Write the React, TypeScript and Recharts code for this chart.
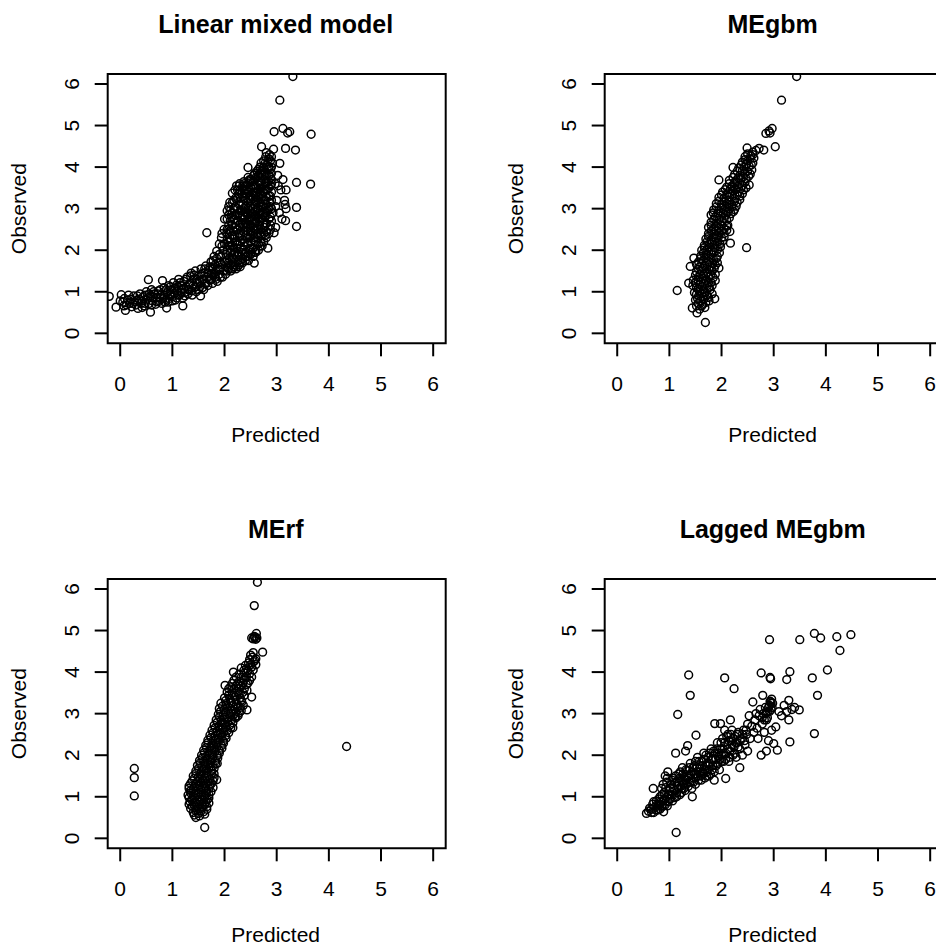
import React from 'react';
import { ScatterChart, Scatter, XAxis, YAxis, ReferenceArea } from 'recharts';

// axis / label text
const AXIS_TICKS = [0, 1, 2, 3, 4, 5, 6];
const X_LABEL = 'Predicted';
const Y_LABEL = 'Observed';

// [predicted, observed] pairs
const lmmPoints: [number, number][] = [
  [-0.21, 0.89], [-0.08, 0.63], [0.02, 0.93], [0.1, 0.55], [0.05, 0.75], [0.08, 0.84], [0.12, 0.68],
  [0.18, 0.72], [0.2, 0.82], [0.22, 0.64], [0.26, 0.9], [0.28, 0.76], [0.3, 0.68],
  [0.34, 0.6], [0.36, 0.82], [0.38, 0.95], [0.4, 0.72], [0.44, 0.88], [0.46, 0.66], [0.5, 0.8], [0.5, 1.0],
  [0.54, 1.29], [0.55, 0.72], [0.58, 0.51], [0.58, 0.9], [0.6, 1.05], [0.62, 0.78], [0.66, 0.95], [0.68, 0.7], [0.7, 0.86],
  [0.73, 1.02], [0.75, 0.77], [0.78, 0.92], [0.81, 1.27], [0.82, 0.84], [0.84, 1.1], [0.86, 0.75], [0.89, 0.61], [0.9, 0.98],
  [0.93, 1.15], [0.94, 0.84], [0.97, 0.92], [0.98, 1.05], [1.0, 0.78], [1.02, 1.22], [1.04, 0.96], [1.06, 1.1], [1.08, 0.85], [1.1, 1.02],
  [1.12, 1.3], [1.14, 0.92], [1.16, 1.15], [1.18, 1.05], [1.2, 0.66], [1.2, 0.85], [1.22, 1.25], [1.24, 0.98], [1.26, 1.12], [1.28, 1.35], [1.3, 0.95],
  [1.32, 1.05], [1.34, 1.2], [1.36, 1.45], [1.38, 0.92], [1.4, 1.3], [1.42, 1.1], [1.44, 1.5], [1.46, 1.0], [1.48, 1.22], [1.5, 1.38],
  [1.54, 0.9], [1.53, 1.12], [1.55, 1.55], [1.57, 1.3], [1.6, 1.05], [1.6, 1.45], [1.62, 1.2], [1.64, 1.62], [1.66, 2.42], [1.66, 1.35], [1.68, 1.15], [1.7, 1.52],
  [1.72, 1.28], [1.74, 1.72], [1.75, 1.42], [1.77, 1.2], [1.78, 1.6], [1.8, 1.85], [1.82, 1.35], [1.83, 1.5], [1.85, 1.98], [1.86, 1.25], [1.88, 1.7], [1.9, 1.42], [1.9, 2.15],
  [1.92, 1.58], [1.93, 1.85], [1.94, 2.3], [1.96, 1.35], [1.97, 2.0], [1.98, 1.5], [1.99, 2.5], [2.0, 1.72], [2.0, 2.15], [2.0, 2.75],
  [2.02, 1.42], [2.03, 1.9], [2.04, 2.4], [2.05, 2.95], [2.06, 1.6], [2.07, 2.1], [2.08, 2.6], [2.09, 1.8], [2.1, 3.15], [2.1, 2.3],
  [2.12, 1.5], [2.13, 2.0], [2.14, 2.8], [2.15, 3.37], [2.16, 1.7], [2.17, 2.45], [2.18, 3.0], [2.19, 1.9], [2.2, 2.2], [2.2, 2.65], [2.21, 3.25], [2.22, 1.55],
  [2.23, 3.55], [2.24, 2.05], [2.25, 2.85], [2.26, 1.75], [2.27, 2.4], [2.28, 3.1], [2.29, 3.6], [2.3, 1.6], [2.3, 2.2], [2.31, 2.65], [2.32, 1.95],
  [2.33, 3.35], [2.34, 2.95], [2.35, 1.7], [2.36, 2.45], [2.37, 3.65], [2.38, 2.1], [2.39, 2.8], [2.4, 3.2], [2.41, 1.85], [2.42, 2.55], [2.42, 3.45],
  [2.45, 3.99], [2.44, 2.3], [2.45, 3.0], [2.46, 1.75], [2.47, 2.7], [2.48, 3.7], [2.49, 2.05], [2.5, 3.3], [2.5, 2.45], [2.52, 2.9], [2.52, 1.95],
  [2.54, 3.55], [2.55, 2.25], [2.56, 3.8], [2.57, 1.69], [2.57, 2.65], [2.58, 3.1], [2.6, 2.0], [2.6, 2.85], [2.61, 3.4], [2.62, 3.9], [2.62, 2.4],
  [2.64, 3.2], [2.65, 2.15], [2.66, 3.65], [2.67, 2.6], [2.68, 4.0], [2.68, 2.95], [2.7, 3.35], [2.71, 4.49], [2.7, 2.35], [2.72, 3.8], [2.72, 2.1],
  [2.74, 3.05], [2.75, 4.15], [2.76, 2.55], [2.77, 3.55], [2.78, 2.8], [2.79, 4.25], [2.8, 3.3], [2.8, 2.3], [2.82, 3.95], [2.83, 2.05], [2.82, 2.95],
  [2.85, 3.65], [2.86, 4.3], [2.87, 3.15], [2.88, 2.6], [2.9, 3.85], [2.9, 3.4], [2.92, 4.1], [2.94, 4.43], [2.95, 2.42], [2.95, 4.85], [2.93, 2.9], [2.97, 3.6], [2.98, 2.55],
  [3.0, 3.2], [3.02, 3.8], [3.05, 2.9], [3.06, 4.09], [3.06, 5.61], [3.08, 3.45], [3.1, 2.75], [3.12, 4.93], [3.12, 3.7], [3.15, 3.2],
  [3.16, 3.1], [3.17, 2.71], [3.17, 4.45], [3.18, 3.45], [3.18, 3.0], [3.21, 4.82], [3.25, 4.85], [3.31, 6.18], [3.36, 4.41],
  [3.38, 3.63], [3.38, 3.03], [3.38, 2.57], [3.66, 4.79], [3.65, 3.59], [3.03, 3.55], [2.98, 3.05],
  // filling the dense band
  [0.0, 0.78], [0.07, 0.66], [0.14, 0.8], [0.16, 0.92], [0.24, 0.72], [0.32, 0.8], [0.33, 0.9], [0.42, 0.62], [0.42, 0.78], [0.48, 0.72], [0.48, 0.92],
  [0.53, 0.85], [0.56, 0.95], [0.6, 0.68], [0.64, 0.86], [0.64, 1.0], [0.7, 0.76], [0.72, 0.95], [0.76, 0.86], [0.77, 1.05], [0.8, 0.72],
  [0.84, 0.92], [0.88, 0.82], [0.88, 1.05], [0.92, 0.75], [0.95, 0.95], [0.96, 1.12],
  [1.0, 0.88], [1.03, 1.08], [1.06, 0.8], [1.08, 1.16], [1.1, 0.92], [1.12, 1.1], [1.15, 1.22], [1.17, 0.98], [1.22, 1.08], [1.24, 0.9],
  [1.26, 1.3], [1.3, 1.05], [1.32, 1.18], [1.35, 1.38], [1.37, 1.02], [1.4, 1.15], [1.42, 1.4], [1.45, 1.12], [1.47, 1.3], [1.5, 1.05],
  [1.52, 1.25], [1.55, 1.42], [1.58, 1.1], [1.6, 1.3], [1.62, 1.55], [1.65, 1.2], [1.68, 1.45], [1.7, 1.3], [1.72, 1.6], [1.75, 1.3],
  [1.76, 1.55], [1.78, 1.75], [1.8, 1.45], [1.82, 1.65], [1.84, 1.3], [1.85, 1.8], [1.88, 1.55], [1.9, 1.9], [1.92, 1.35], [1.92, 1.7],
  [1.95, 1.65], [1.95, 2.1], [1.95, 2.4],
  [2.05, 1.5], [2.05, 1.75], [2.05, 2.0], [2.05, 2.25], [2.05, 2.5], [2.05, 2.75],
  [2.11, 1.65], [2.11, 1.95], [2.11, 2.2], [2.11, 2.45], [2.11, 2.7], [2.11, 2.95],
  [2.15, 1.55], [2.15, 1.8], [2.15, 2.1], [2.15, 2.35], [2.15, 2.6], [2.15, 2.9], [2.15, 3.15],
  [2.2, 1.65], [2.2, 1.95], [2.2, 2.35], [2.2, 2.55], [2.2, 2.85], [2.2, 3.05], [2.2, 3.45],
  [2.25, 1.6], [2.25, 1.85], [2.25, 2.15], [2.25, 2.5], [2.25, 2.7], [2.25, 3.0], [2.25, 3.25], [2.25, 3.45],
  [2.3, 1.7], [2.3, 2.05], [2.3, 2.35], [2.3, 2.55], [2.3, 2.8], [2.3, 2.95], [2.3, 3.25], [2.3, 3.45],
  [2.35, 1.8], [2.35, 2.0], [2.35, 2.25], [2.35, 2.6], [2.35, 2.85], [2.35, 3.1], [2.35, 3.3], [2.35, 3.55],
  [2.4, 1.75], [2.4, 1.95], [2.4, 2.35], [2.4, 2.65], [2.4, 2.9], [2.4, 3.05], [2.4, 3.35], [2.4, 3.55],
  [2.45, 1.85], [2.45, 2.15], [2.45, 2.45], [2.45, 2.6], [2.45, 2.85], [2.45, 3.15], [2.45, 3.4], [2.45, 3.6], [2.45, 3.75],
  [2.5, 1.9], [2.5, 2.2], [2.5, 2.35], [2.5, 2.6], [2.5, 2.8], [2.5, 3.05], [2.5, 3.2], [2.5, 3.5], [2.5, 3.7],
  [2.55, 1.85], [2.55, 2.05], [2.55, 2.4], [2.55, 2.55], [2.55, 2.8], [2.55, 3.0], [2.55, 3.25], [2.55, 3.4], [2.55, 3.65],
  [2.6, 1.95], [2.6, 2.2], [2.6, 2.5], [2.6, 2.7], [2.6, 2.95], [2.6, 3.15], [2.6, 3.3], [2.6, 3.55], [2.6, 3.75],
  [2.65, 2.0], [2.65, 2.3], [2.65, 2.5], [2.65, 2.75], [2.65, 3.0], [2.65, 3.3], [2.65, 3.45], [2.65, 3.8], [2.65, 3.95],
  [2.7, 2.2], [2.7, 2.5], [2.7, 2.75], [2.7, 2.85], [2.7, 3.1], [2.7, 3.25], [2.7, 3.5], [2.7, 3.65], [2.7, 3.9], [2.7, 4.1],
  [2.75, 2.2], [2.75, 2.4], [2.75, 2.65], [2.75, 2.9], [2.75, 3.2], [2.75, 3.4], [2.75, 3.7], [2.75, 3.9], [2.75, 4.0],
  [2.8, 2.45], [2.8, 2.65], [2.8, 2.9], [2.8, 3.1], [2.8, 3.45], [2.8, 3.65], [2.8, 3.8], [2.8, 4.05], [2.8, 4.35],
  [2.85, 2.4], [2.85, 2.75], [2.85, 3.0], [2.85, 3.3], [2.85, 3.5], [2.85, 3.8], [2.85, 4.0], [2.85, 4.2],
  [2.9, 2.7], [2.9, 3.0], [2.9, 3.2], [2.9, 3.6], [2.9, 3.7], [2.9, 4.0], [2.9, 4.25],
  [2.08, 1.55], [2.08, 1.7], [2.08, 2.2], [2.08, 2.5], [2.08, 2.85], [2.08, 3.05],
  [2.18, 1.6], [2.18, 1.8], [2.18, 2.05], [2.18, 2.3], [2.18, 2.75], [2.18, 3.2],
  [2.28, 1.65], [2.28, 1.9], [2.28, 2.3], [2.28, 2.6], [2.28, 2.9], [2.28, 3.35], [2.28, 3.55],
  [2.38, 1.9], [2.38, 2.2], [2.38, 2.55], [2.38, 2.75], [2.38, 3.0], [2.38, 3.25], [2.38, 3.45], [2.38, 3.6],
  [2.48, 2.0], [2.48, 2.3], [2.48, 2.55], [2.48, 2.75], [2.48, 2.95], [2.48, 3.25], [2.48, 3.45], [2.48, 3.65],
  [2.58, 1.95], [2.58, 2.3], [2.58, 2.5], [2.58, 2.75], [2.58, 2.95], [2.58, 3.2], [2.58, 3.5], [2.58, 3.7], [2.58, 3.85],
  [2.68, 2.1], [2.68, 2.4], [2.68, 2.7], [2.68, 2.9], [2.68, 3.15], [2.68, 3.4], [2.68, 3.6], [2.68, 3.75], [2.68, 3.85],
  [2.78, 2.35], [2.78, 2.6], [2.78, 2.85], [2.78, 3.0], [2.78, 3.2], [2.78, 3.45], [2.78, 3.6], [2.78, 3.85], [2.78, 4.1],
  [2.88, 2.5], [2.88, 2.8], [2.88, 3.05], [2.88, 3.3], [2.88, 3.55], [2.88, 3.75], [2.88, 3.95], [2.88, 4.15],
];

const megbmPoints: [number, number][] = [
  [1.53, 0.49], [1.44, 0.61], [1.58, 0.58], [1.62, 0.66], [1.68, 0.62], [1.55, 0.72],
  [1.5, 0.8], [1.6, 0.78], [1.7, 0.74], [1.65, 0.88], [1.56, 0.9], [1.75, 0.86], [1.87, 0.83],
  [1.15, 1.03], [1.48, 0.98], [1.58, 1.02], [1.68, 0.98], [1.78, 1.05], [1.52, 1.1], [1.63, 1.12], [1.73, 1.15],
  [1.37, 1.21], [1.5, 1.22], [1.6, 1.25], [1.7, 1.28], [1.8, 1.22], [1.88, 1.27], [1.55, 1.35], [1.66, 1.38], [1.76, 1.35],
  [1.4, 1.61], [1.52, 1.48], [1.62, 1.5], [1.72, 1.47], [1.82, 1.5], [1.58, 1.6], [1.68, 1.62], [1.78, 1.6], [1.95, 1.57], [1.88, 1.64],
  [1.47, 1.81], [1.56, 1.72], [1.65, 1.75], [1.75, 1.73], [1.85, 1.77], [1.6, 1.86], [1.7, 1.88], [1.8, 1.9], [1.92, 1.85],
  [1.62, 2.0], [1.72, 2.02], [1.82, 2.0], [1.93, 2.03], [1.67, 2.12], [1.77, 2.15], [1.87, 2.13], [1.97, 2.15], [2.17, 2.17], [2.48, 2.06],
  [1.7, 2.27], [1.8, 2.25], [1.9, 2.28], [2.0, 2.3], [1.75, 2.4], [1.85, 2.38], [1.95, 2.42], [2.05, 2.4], [2.16, 2.45],
  [1.75, 2.55], [1.85, 2.52], [1.95, 2.55], [2.05, 2.52], [2.12, 2.6], [1.8, 2.67], [1.9, 2.65], [2.0, 2.68], [2.1, 2.72],
  [1.8, 2.85], [1.88, 2.8], [1.98, 2.82], [2.08, 2.84], [2.18, 2.88], [1.85, 2.97], [1.95, 2.95], [2.05, 2.98], [2.15, 3.0], [2.25, 2.98],
  [1.9, 3.12], [2.0, 3.1], [2.1, 3.12], [2.2, 3.1], [2.3, 3.15], [1.95, 3.27], [2.05, 3.25], [2.15, 3.28], [2.25, 3.24], [2.35, 3.3],
  [2.02, 3.4], [2.12, 3.38], [2.22, 3.42], [2.32, 3.4], [2.42, 3.45], [2.1, 3.52], [2.2, 3.55], [2.3, 3.53], [2.4, 3.56], [2.53, 3.57], [1.95, 3.69],
  [2.15, 3.68], [2.27, 3.67], [2.37, 3.7], [2.47, 3.72], [2.25, 3.82], [2.35, 3.8], [2.45, 3.85], [2.55, 3.83],
  [2.22, 3.99], [2.33, 3.98], [2.43, 4.0], [2.53, 4.02], [2.4, 4.12], [2.5, 4.15], [2.6, 4.1], [2.45, 4.25], [2.56, 4.27], [2.62, 4.22],
  [2.49, 4.46], [2.72, 4.45], [2.81, 4.41], [3.03, 4.49], [2.6, 4.36], [2.66, 4.4], [2.85, 4.81], [2.91, 4.87], [2.97, 4.93], [2.93, 4.82],
  [3.15, 5.61], [3.44, 6.18], [1.69, 0.26],
  // filling the dense band
  [1.52, 0.66], [1.64, 0.7], [1.54, 0.84], [1.66, 0.82], [1.76, 0.78], [1.52, 0.94], [1.62, 0.96], [1.72, 0.92], [1.82, 0.95],
  [1.55, 1.06], [1.66, 1.05], [1.76, 1.1], [1.45, 1.15], [1.58, 1.17], [1.68, 1.2], [1.82, 1.15],
  [1.46, 1.28], [1.55, 1.28], [1.65, 1.32], [1.75, 1.22], [1.84, 1.34], [1.5, 1.4], [1.6, 1.42], [1.7, 1.43], [1.8, 1.42], [1.88, 1.42],
  [1.56, 1.54], [1.66, 1.56], [1.76, 1.54], [1.86, 1.56], [1.52, 1.66], [1.62, 1.68], [1.72, 1.68], [1.83, 1.68], [1.92, 1.7],
  [1.6, 1.8], [1.7, 1.82], [1.8, 1.82], [1.9, 1.8], [1.65, 1.93], [1.75, 1.95], [1.86, 1.95], [1.96, 1.94],
  [1.67, 2.06], [1.77, 2.07], [1.88, 2.06], [1.98, 2.08], [1.72, 2.2], [1.82, 2.2], [1.92, 2.2], [2.02, 2.22],
  [1.75, 2.33], [1.85, 2.32], [1.95, 2.34], [2.05, 2.32], [1.8, 2.46], [1.9, 2.46], [2.0, 2.46], [2.1, 2.48],
  [1.8, 2.6], [1.9, 2.59], [2.0, 2.6], [2.1, 2.58], [1.85, 2.74], [1.95, 2.73], [2.05, 2.76], [2.15, 2.78],
  [1.84, 2.9], [1.93, 2.89], [2.03, 2.9], [2.13, 2.92], [2.23, 2.93], [1.9, 3.04], [2.0, 3.04], [2.1, 3.06], [2.2, 3.04], [2.28, 3.06],
  [1.95, 3.18], [2.05, 3.18], [2.15, 3.2], [2.25, 3.18], [2.35, 3.22], [2.0, 3.33], [2.1, 3.32], [2.2, 3.34], [2.3, 3.33], [2.4, 3.36],
  [2.07, 3.46], [2.17, 3.47], [2.27, 3.47], [2.37, 3.48], [2.47, 3.5], [2.15, 3.6], [2.25, 3.62], [2.35, 3.6], [2.45, 3.63],
  [2.22, 3.75], [2.32, 3.74], [2.42, 3.77], [2.52, 3.78], [2.3, 3.9], [2.4, 3.91], [2.5, 3.9], [2.58, 3.93],
  [2.38, 4.05], [2.48, 4.07], [2.57, 4.05], [2.45, 4.18], [2.55, 4.2], [2.5, 4.32], [2.6, 4.3],
];

const merfPoints: [number, number][] = [
  [1.45, 0.5], [1.4, 0.62], [1.5, 0.6], [1.6, 0.64], [1.35, 0.72], [1.46, 0.7], [1.56, 0.72], [1.66, 0.7],
  [1.32, 0.82], [1.42, 0.8], [1.52, 0.82], [1.62, 0.8], [1.7, 0.85], [1.37, 0.93], [1.47, 0.92], [1.57, 0.94], [1.67, 0.93],
  [1.3, 1.04], [1.4, 1.02], [1.5, 1.05], [1.6, 1.03], [1.7, 1.05], [1.35, 1.15], [1.45, 1.14], [1.55, 1.16], [1.65, 1.15], [1.74, 1.12],
  [1.32, 1.26], [1.42, 1.25], [1.52, 1.28], [1.62, 1.26], [1.72, 1.27], [1.38, 1.38], [1.48, 1.37], [1.58, 1.39], [1.68, 1.36], [1.78, 1.38], [1.85, 1.41],
  [1.4, 1.5], [1.5, 1.48], [1.6, 1.52], [1.7, 1.5], [1.8, 1.55], [1.45, 1.62], [1.55, 1.6], [1.65, 1.63], [1.75, 1.62],
  [1.48, 1.75], [1.58, 1.73], [1.68, 1.76], [1.78, 1.74], [1.52, 1.87], [1.62, 1.85], [1.72, 1.88], [1.82, 1.86], [1.86, 1.8],
  [1.56, 2.0], [1.66, 1.98], [1.76, 2.01], [1.86, 1.99], [1.6, 2.12], [1.7, 2.1], [1.8, 2.13], [1.9, 2.11], [1.64, 2.24], [1.74, 2.22], [1.84, 2.25], [1.94, 2.23],
  [1.68, 2.36], [1.78, 2.35], [1.88, 2.37], [1.98, 2.34], [1.72, 2.48], [1.82, 2.47], [1.92, 2.5], [2.02, 2.47],
  [1.76, 2.6], [1.86, 2.58], [1.96, 2.62], [2.06, 2.6], [1.8, 2.72], [1.9, 2.71], [2.0, 2.74], [2.1, 2.72], [2.16, 2.66],
  [1.84, 2.85], [1.94, 2.84], [2.04, 2.87], [2.14, 2.85], [2.22, 2.9], [1.88, 2.98], [1.98, 2.97], [2.08, 3.0], [2.18, 2.98], [2.28, 3.02],
  [1.9, 3.12], [2.0, 3.1], [2.1, 3.13], [2.2, 3.11], [2.3, 3.15], [2.43, 3.09], [1.93, 3.25], [2.03, 3.24], [2.13, 3.26], [2.23, 3.23], [2.33, 3.28],
  [2.0, 3.38], [2.1, 3.37], [2.2, 3.4], [2.3, 3.38], [2.52, 3.4], [2.05, 3.52], [2.15, 3.5], [2.25, 3.53], [2.35, 3.51], [2.43, 3.56],
  [2.01, 3.68], [2.12, 3.65], [2.22, 3.67], [2.32, 3.66], [2.42, 3.7], [2.18, 3.8], [2.28, 3.78], [2.38, 3.82], [2.48, 3.8],
  [2.17, 4.0], [2.28, 3.95], [2.38, 3.98], [2.48, 3.96], [2.32, 4.1], [2.42, 4.08], [2.52, 4.12], [2.6, 4.18], [2.46, 4.22], [2.56, 4.25],
  [2.5, 4.41], [2.54, 4.36], [2.6, 4.32], [2.73, 4.48], [2.55, 4.47],
  [2.52, 4.82], [2.55, 4.8], [2.58, 4.83], [2.6, 4.79], [2.62, 4.82], [2.57, 4.86], [2.61, 4.93], [2.57, 5.6], [2.63, 6.16],
  [0.27, 1.68], [0.27, 1.46], [0.27, 1.02], [4.34, 2.21], [1.62, 0.26],
  // filling the dense band
  [1.42, 0.56], [1.52, 0.54], [1.45, 0.66], [1.55, 0.66], [1.62, 0.58], [1.38, 0.77], [1.48, 0.76], [1.58, 0.77], [1.66, 0.76],
  [1.34, 0.88], [1.44, 0.87], [1.54, 0.88], [1.64, 0.87], [1.32, 0.98], [1.42, 0.98], [1.52, 0.99], [1.62, 0.98], [1.7, 0.97],
  [1.35, 1.09], [1.45, 1.09], [1.55, 1.1], [1.65, 1.09], [1.32, 1.2], [1.4, 1.2], [1.5, 1.21], [1.6, 1.2], [1.7, 1.2], [1.78, 1.22],
  [1.35, 1.32], [1.45, 1.31], [1.55, 1.33], [1.65, 1.31], [1.75, 1.32], [1.42, 1.44], [1.52, 1.43], [1.62, 1.45], [1.72, 1.43], [1.8, 1.46],
  [1.45, 1.56], [1.55, 1.55], [1.65, 1.57], [1.75, 1.56], [1.5, 1.68], [1.6, 1.67], [1.7, 1.69], [1.8, 1.68],
  [1.53, 1.81], [1.63, 1.8], [1.73, 1.82], [1.83, 1.8], [1.57, 1.93], [1.67, 1.92], [1.77, 1.94], [1.87, 1.93],
  [1.61, 2.06], [1.71, 2.05], [1.81, 2.07], [1.9, 2.05], [1.65, 2.18], [1.75, 2.17], [1.85, 2.19], [1.95, 2.17],
  [1.68, 2.3], [1.78, 2.29], [1.88, 2.31], [1.98, 2.29], [1.74, 2.42], [1.84, 2.41], [1.94, 2.43], [2.03, 2.41],
  [1.78, 2.54], [1.88, 2.53], [1.98, 2.55], [2.08, 2.54], [1.82, 2.66], [1.92, 2.65], [2.02, 2.67], [2.12, 2.66],
  [1.86, 2.79], [1.96, 2.78], [2.06, 2.8], [2.16, 2.78], [1.9, 2.92], [2.0, 2.91], [2.1, 2.93], [2.2, 2.92], [2.26, 2.95],
  [1.92, 3.05], [2.02, 3.04], [2.12, 3.06], [2.22, 3.04], [2.32, 3.07], [1.96, 3.18], [2.06, 3.17], [2.16, 3.19], [2.26, 3.17], [2.36, 3.2],
  [2.02, 3.31], [2.12, 3.31], [2.22, 3.33], [2.32, 3.32], [2.08, 3.45], [2.18, 3.44], [2.28, 3.46], [2.38, 3.44],
  [2.08, 3.6], [2.18, 3.59], [2.28, 3.61], [2.38, 3.6], [2.15, 3.73], [2.25, 3.72], [2.35, 3.74], [2.45, 3.74],
  [2.22, 3.88], [2.32, 3.87], [2.42, 3.89], [2.52, 3.88], [2.37, 4.04], [2.45, 4.03], [2.55, 4.05], [2.4, 4.16], [2.5, 4.18], [2.48, 4.3], [2.58, 4.28],
];

const laggedPoints: [number, number][] = [
  [0.56, 0.6], [0.6, 0.65], [0.65, 0.7], [0.7, 0.62], [0.68, 0.82], [0.69, 1.2], [0.72, 0.75], [0.75, 0.9], [0.78, 0.68], [0.8, 0.82],
  [0.82, 1.0], [0.85, 0.75], [0.85, 1.2], [0.88, 0.9], [0.89, 0.64], [0.9, 1.1], [0.92, 0.8], [0.95, 1.0], [0.95, 1.35], [0.98, 0.88],
  [1.0, 1.15], [0.92, 1.5], [0.97, 1.6],
  [1.02, 0.95], [1.04, 1.3], [1.05, 1.05], [1.08, 1.2], [1.08, 1.45], [1.1, 0.98], [1.12, 1.35], [1.12, 2.05], [1.13, 0.14], [1.14, 1.1],
  [1.16, 2.98], [1.16, 1.25], [1.18, 1.55], [1.2, 1.05], [1.22, 1.4], [1.24, 1.2], [1.25, 1.7], [1.27, 1.3], [1.28, 1.5], [1.3, 1.15],
  [1.31, 2.1], [1.32, 1.4], [1.34, 1.62], [1.35, 2.23], [1.36, 1.25], [1.37, 3.93], [1.38, 1.5], [1.4, 3.44], [1.4, 1.8], [1.42, 1.35],
  [1.44, 1.0], [1.44, 1.6], [1.46, 1.45], [1.48, 1.75], [1.5, 1.3], [1.51, 2.48],
  [1.52, 1.55], [1.54, 1.95], [1.56, 1.4], [1.58, 1.7], [1.6, 1.5], [1.62, 1.85], [1.64, 1.6], [1.66, 2.05], [1.68, 1.45], [1.7, 1.75],
  [1.72, 1.6], [1.74, 1.95], [1.76, 1.5], [1.78, 1.8], [1.8, 2.15], [1.82, 1.65], [1.84, 1.9], [1.86, 1.4], [1.87, 2.76], [1.88, 2.05],
  [1.9, 1.75], [1.92, 2.3], [1.94, 1.95], [1.96, 1.65], [1.98, 2.76], [1.98, 2.15], [2.0, 1.85],
  [2.02, 2.4], [2.04, 2.05], [2.06, 3.86], [2.06, 2.6], [2.08, 1.44], [2.08, 1.9], [2.1, 2.25], [2.12, 2.5], [2.14, 1.85], [2.16, 2.1],
  [2.17, 2.85], [2.18, 2.35], [2.2, 2.6], [2.22, 2.0], [2.24, 3.6], [2.24, 2.2], [2.26, 2.45], [2.28, 1.95], [2.3, 2.3], [2.32, 2.55],
  [2.35, 1.7], [2.35, 2.15], [2.38, 2.4], [2.4, 2.0], [2.42, 2.6], [2.45, 2.25], [2.48, 2.5], [2.5, 2.1], [2.5, 2.75],
  [2.53, 2.95], [2.55, 2.4], [2.58, 2.7], [2.6, 3.28], [2.62, 2.55], [2.64, 2.85], [2.66, 3.0], [2.68, 2.65], [2.7, 2.4], [2.72, 2.95],
  [2.74, 3.1], [2.76, 3.98], [2.76, 2.0], [2.78, 2.75], [2.79, 3.44], [2.8, 3.0], [2.82, 2.55], [2.84, 3.15], [2.86, 2.1], [2.86, 2.85],
  [2.88, 3.05], [2.9, 2.35], [2.92, 4.78], [2.92, 3.2], [2.93, 3.87], [2.94, 3.84], [2.94, 3.28], [2.95, 3.1], [2.96, 2.6], [2.98, 3.25],
  [3.0, 2.28], [3.04, 2.68], [3.07, 2.12],
  [3.1, 3.05], [3.15, 2.95], [3.2, 3.2], [3.25, 3.82], [3.25, 3.05], [3.29, 2.85], [3.29, 3.32], [3.31, 4.01], [3.31, 2.32], [3.35, 3.1],
  [3.4, 3.15], [3.49, 3.09], [3.5, 4.78], [3.74, 3.86], [3.78, 4.93], [3.78, 2.52], [3.84, 3.44], [3.9, 4.82], [4.03, 4.05], [4.21, 4.85],
  [4.27, 4.52], [4.48, 4.9],
  // filling the dense core
  [0.62, 0.72], [0.66, 0.62], [0.7, 0.88], [0.74, 0.68], [0.76, 0.8], [0.8, 0.95], [0.82, 0.7], [0.83, 0.88], [0.86, 1.05], [0.88, 0.78],
  [0.9, 0.95], [0.93, 1.22], [0.94, 0.9], [0.96, 0.78], [0.98, 1.05], [1.0, 0.95], [0.88, 1.3], [0.96, 1.45],
  [1.02, 1.2], [1.05, 1.4], [1.06, 0.9], [1.1, 1.15], [1.12, 1.5], [1.14, 1.0], [1.15, 1.35], [1.18, 1.2], [1.2, 1.45], [1.21, 1.6],
  [1.23, 1.1], [1.25, 1.35], [1.26, 1.55], [1.28, 1.2], [1.3, 1.42], [1.32, 1.65], [1.33, 1.3], [1.35, 1.5], [1.38, 1.7], [1.39, 1.35],
  [1.41, 1.55], [1.43, 1.2], [1.45, 1.7], [1.46, 1.35], [1.48, 1.55], [1.5, 1.85], [1.5, 1.45],
  [1.53, 1.7], [1.55, 1.5], [1.57, 1.85], [1.59, 1.6], [1.61, 1.4], [1.63, 1.75], [1.65, 1.55], [1.66, 1.9], [1.68, 1.65], [1.7, 2.0],
  [1.71, 1.5], [1.73, 1.8], [1.75, 1.65], [1.77, 2.05], [1.79, 1.55], [1.81, 1.9], [1.83, 1.75], [1.85, 2.1], [1.86, 1.6], [1.89, 1.9],
  [1.91, 2.15], [1.93, 1.8], [1.95, 2.05], [1.97, 1.9], [1.99, 2.3], [2.0, 2.0],
  [2.02, 2.15], [2.04, 1.85], [2.06, 2.3], [2.08, 2.05], [2.1, 2.45], [2.12, 2.15], [2.14, 2.35], [2.16, 1.95], [2.18, 2.5], [2.2, 2.25],
  [2.22, 2.4], [2.25, 2.05], [2.27, 2.3], [2.3, 2.5], [2.32, 2.2], [2.36, 2.35], [2.4, 2.5], [2.44, 2.35], [2.47, 2.6],
  [2.78, 2.9], [2.82, 2.85], [2.85, 3.0], [2.88, 2.9], [2.9, 3.15], [2.92, 3.05], [2.95, 3.25], [2.97, 3.15], [2.93, 3.3], [2.96, 3.35],
];

const PANELS = [
  { title: 'Linear mixed model', points: lmmPoints, left: 0, top: 0, xLabelGap: 99 },
  { title: 'MEgbm', points: megbmPoints, left: 496.6, top: 0, xLabelGap: 99 },
  { title: 'MErf', points: merfPoints, left: 0, top: 505, xLabelGap: 94 },
  { title: 'Lagged MEgbm', points: laggedPoints, left: 496.6, top: 505, xLabelGap: 94 },
];

const FONT = '"Liberation Sans", Arial, Helvetica, sans-serif';
const DOMAIN: [number, number] = [-0.24, 6.24];
const CHART_W = 470;
const CHART_H = 470;
const BOX_LEFT = 107.7;
const BOX_TOP = 74;
const BOX_W = 338;
const BOX_H = 269.3;
const AXIS_W = 60;
const AXIS_H = 60;

function Dot(props: any) {
  const { cx, cy } = props;
  if (cx == null || cy == null) return null;
  return <circle cx={cx} cy={cy} r={3.9} fill="none" stroke="#000" strokeWidth={1.5} />;
}

function YTick(props: any) {
  const { x, y, payload } = props;
  const bx = x - 16;
  return (
    <text x={bx} y={y} transform={`rotate(-90 ${bx} ${y})`} textAnchor="middle"
      fontSize={21} fontFamily={FONT} fill="#000">
      {payload.value}
    </text>
  );
}

function Panel({ title, points, left, top, xLabelGap }: { title: string; points: [number, number][]; left: number; top: number; xLabelGap: number }) {
  const data = points.map(([x, y]) => ({ x, y }));
  const cx = BOX_LEFT + BOX_W / 2 - 1;
  const cy = BOX_TOP + BOX_H / 2;
  return (
    <div style={{ position: 'absolute', left, top, width: CHART_W, height: CHART_H }}>
      <ScatterChart
        width={CHART_W}
        height={CHART_H}
        margin={{
          top: BOX_TOP,
          right: CHART_W - BOX_LEFT - BOX_W,
          bottom: CHART_H - BOX_TOP - BOX_H - AXIS_H,
          left: BOX_LEFT - AXIS_W,
        }}
      >
        <XAxis type="number" dataKey="x" domain={DOMAIN} ticks={AXIS_TICKS} interval={0} allowDataOverflow
          height={AXIS_H} axisLine={false} tickLine={{ stroke: '#000', strokeWidth: 2 }} tickSize={13} tickMargin={20}
          tick={{ fill: '#000', fontSize: 21, fontFamily: FONT }} />
        <YAxis type="number" dataKey="y" domain={DOMAIN} ticks={AXIS_TICKS} interval={0} allowDataOverflow
          width={AXIS_W} axisLine={false} tickLine={{ stroke: '#000', strokeWidth: 2 }} tickSize={13} tickMargin={0}
          tick={<YTick />} />
        <ReferenceArea x1={DOMAIN[0]} x2={DOMAIN[1]} y1={DOMAIN[0]} y2={DOMAIN[1]}
          fill="none" fillOpacity={0} stroke="#000" strokeWidth={2} ifOverflow="visible" />
        <Scatter data={data} shape={Dot} isAnimationActive={false} />
      </ScatterChart>
      <svg width={CHART_W} height={CHART_H} style={{ position: 'absolute', left: 0, top: 0, pointerEvents: 'none', overflow: 'visible' }}>
        <text x={cx} y={BOX_TOP - 40.7} textAnchor="middle" fontSize={25} fontWeight="bold" fontFamily={FONT} fill="#000">
          {title}
        </text>
        <text x={cx} y={BOX_TOP + BOX_H + xLabelGap} textAnchor="middle" fontSize={21} fontFamily={FONT} fill="#000">
          {X_LABEL}
        </text>
        <text x={26.5} y={cy} transform={`rotate(-90 26.5 ${cy})`} textAnchor="middle" fontSize={21} fontFamily={FONT} fill="#000">
          {Y_LABEL}
        </text>
      </svg>
    </div>
  );
}

export default function App() {
  return (
    <div style={{ position: 'absolute', left: 0, top: 0, width: 936, height: 948, overflow: 'hidden', background: '#fff' }}>
      {PANELS.map((p) => (
        <Panel key={p.title} title={p.title} points={p.points} left={p.left} top={p.top} xLabelGap={p.xLabelGap} />
      ))}
    </div>
  );
}
